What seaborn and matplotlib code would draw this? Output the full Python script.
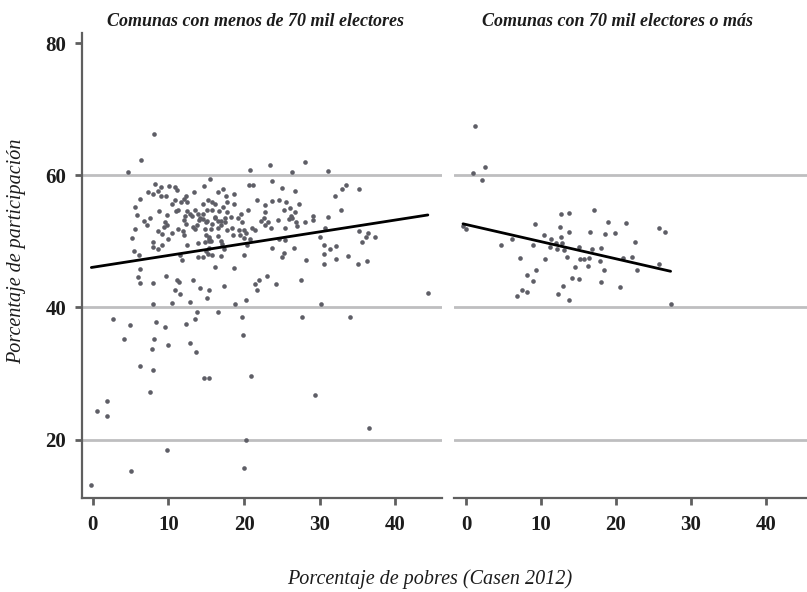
import matplotlib
matplotlib.use("Agg")
import matplotlib.pyplot as plt
import seaborn as sns
import pandas as pd

# Comunas con menos de 70 mil electores: % pobres (Casen 2012) vs % participación
small_pobres = [
    4.6, 6.4, 8.1, 8.2, 7.3, 8.0, 8.6, 9.0, 9.0, 9.7, 10.1, 10.8, 11.1, 12.3, 13.4, 14.7, 15.5, 16.5,
    17.2, 17.6, 18.7, 20.6, 21.2, 20.8, 23.4, 23.7, 25.0, 26.4, 26.7, 28.0, 31.1, 32.0, 33.0, 33.5, 35.2,
    6.2, 10.9, 10.5, 11.7, 12.0, 12.4, 14.5, 15.2, 5.6, 5.9, 8.8, 9.8, 11.0, 11.3, 12.5, 12.9, 13.5,
    13.9, 14.5, 15.1, 7.5,
    6.7, 7.2, 5.6, 5.2, 5.5, 6.1, 6.2, 6.0, 6.2, 7.9, 9.7, 8.6, 9.2, 9.4, 9.5, 9.8, 9.9, 10.5, 11.3,
    12.0, 12.3, 11.9, 12.0, 7.9, 8.0, 8.6, 9.1, 12.5, 11.5, 11.8, 13.3, 13.5, 13.8, 14.0, 14.2, 14.6,
    14.9, 12.2, 13.1, 13.9, 14.8, 15.4, 13.9, 14.5, 14.9, 15.4, 11.1, 11.4, 11.5, 10.9, 13.3, 14.2, 15.3,
    15.7, 16.1, 17.7, 18.7, 17.2, 16.7, 15.8, 17.8, 18.3, 17.5, 16.2, 19.6, 19.2, 20.5, 21.7, 22.7,
    22.8, 23.7, 24.6, 25.6, 25.3, 26.1, 26.7, 26.2, 26.4, 27.2, 29.1, 31.1, 22.6,
    15.1, 15.7, 16.1, 16.5, 16.9, 17.5, 19.7, 22.3, 22.8, 23.2, 23.6, 24.5, 25.4, 25.9, 26.8, 27.0,
    28.1, 29.1, 30.7, 14.8, 15.6, 16.5, 17.0, 17.8, 18.4, 19.3, 20.0, 20.2, 21.0, 21.4, 18.5, 19.4,
    20.8, 15.3, 15.6, 16.6, 16.9, 17.1, 15.4, 14.9, 15.2, 15.8, 16.9, 17.3, 20.0, 20.4, 20.0, 23.7,
    24.6, 25.4, 25.3, 25.0, 26.6, 28.2, 30.1, 30.5, 31.3, 30.5, 30.6, 16.1, 18.7, 23.0, 22.0, 21.5,
    21.7, 24.2, 27.5, 17.3,
    32.8, 35.2, 36.4, 36.1, 37.3, 35.6, 32.1, 33.8, 32.1, 36.2, 35.1, 44.3,
    7.9, 10.5, 12.8, 15.1, 13.8, 16.5, 18.8, 20.2, 19.7, 19.8, 20.9, 14.7, 15.4, 13.5, 12.3, 12.8,
    13.7, 9.9, 9.5, 8.4, 8.1, 7.8, 6.3, 7.9, 4.9, 4.1, 2.6, 27.7, 30.2, 34.0,
    7.5, 29.4, 36.5, 1.9, 0.6, 1.9, 20.2, 9.8, 5.1, 20.0, -0.2,
]
small_particip = [
    60.5, 62.3, 66.2, 58.7, 57.4, 57.2, 57.6, 58.3, 56.9, 56.9, 58.4, 58.2, 57.8, 56.9, 57.5, 58.4, 59.5, 57.4,
    57.9, 56.9, 57.2, 58.6, 58.6, 60.8, 61.6, 59.1, 58.1, 60.5, 57.6, 62.0, 60.7, 56.8, 57.9, 58.5, 57.9,
    56.4, 56.2, 55.7, 56.0, 56.4, 55.9, 55.7, 56.2, 55.2, 54.0, 54.6, 54.0, 54.6, 54.8, 54.6, 54.2, 54.8,
    54.1, 54.2, 54.8, 53.5,
    53.1, 52.5, 51.8, 50.5, 48.6, 48.0, 45.8, 44.6, 43.7, 43.7, 44.7, 51.5, 51.1, 52.2, 53.0, 52.5, 50.4, 51.2, 51.9,
    53.3, 52.7, 51.5, 50.9, 49.9, 49.1, 48.8, 49.4, 49.4, 47.9, 47.2, 52.2, 51.8, 52.5, 53.2, 53.6, 53.4,
    52.9, 53.8, 53.8, 49.8, 49.9, 50.1, 47.7, 47.7, 51.0, 50.7, 44.1, 43.9, 42.1, 42.7, 44.1, 42.9, 42.7,
    56.0, 55.7, 56.0, 55.6, 55.2, 54.6, 54.7, 54.4, 53.7, 53.6, 53.7, 54.2, 53.6, 54.8, 56.3, 55.5,
    54.5, 56.1, 56.3, 55.9, 54.8, 55.1, 54.4, 53.9, 53.6, 55.6, 53.9, 53.7, 53.6,
    53.1, 52.6, 53.5, 53.1, 53.1, 52.9, 52.9, 53.1, 52.5, 53.0, 52.1, 53.3, 52.1, 53.4, 52.9, 52.4,
    52.9, 53.3, 52.1, 51.8, 51.8, 52.0, 52.5, 51.7, 52.0, 51.7, 51.7, 51.2, 52.1, 51.7, 51.0, 51.0,
    50.4, 50.4, 50.1, 50.8, 50.1, 49.6, 49.0, 48.5, 48.1, 48.0, 47.8, 48.9, 50.5, 49.4, 48.0, 49.0,
    50.3, 50.2, 48.2, 47.7, 49.0, 47.2, 50.6, 49.4, 48.9, 48.1, 46.6, 46.2, 46.0, 44.8, 44.1, 43.5,
    42.6, 43.5, 44.2, 43.2,
    54.8, 51.5, 51.3, 50.7, 50.7, 49.9, 49.3, 47.8, 47.3, 47.0, 46.6, 42.2,
    40.6, 40.7, 40.9, 41.5, 39.3, 39.3, 40.6, 41.2, 38.6, 35.8, 29.6, 29.3, 29.3, 38.2, 37.5, 34.6,
    33.3, 34.4, 37.1, 37.8, 35.3, 33.7, 31.1, 30.5, 37.3, 35.2, 38.2, 38.6, 40.6, 38.6,
    27.2, 26.8, 21.8, 25.9, 24.3, 23.6, 20.0, 18.5, 15.3, 15.7, 13.1,
]

# Comunas con 70 mil electores o más
large_pobres = [
    1.2, 2.5, 0.9, 2.2, -0.4, 0.0, 4.7, 6.1, 7.2, 8.2, 7.5, 6.8, 8.2, 9.0, 9.3, 8.9, 9.2, 10.4, 10.6,
    11.2, 11.4, 12.0, 12.1, 12.5, 12.7, 12.8, 12.7, 13.7, 13.7, 13.1, 13.5, 12.9, 12.3, 13.7, 14.2,
    14.6, 15.1, 15.2, 15.1, 15.8, 16.3, 16.4, 16.8, 16.6, 17.1, 18.0, 17.9, 18.4, 18.0, 18.5, 19.0,
    19.9, 21.0, 20.6, 21.3, 22.1, 22.6, 22.8, 25.7, 25.8, 26.6, 27.3,
]
large_particip = [
    67.5, 61.3, 60.4, 59.3, 52.3, 51.9, 49.4, 50.3, 47.5, 44.9, 42.7, 41.8, 42.3, 44.0, 45.6, 49.5, 52.6, 50.9, 47.3,
    49.2, 50.3, 49.8, 48.9, 52.2, 50.6, 49.8, 54.1, 54.3, 51.4, 48.7, 47.7, 43.2, 42.0, 41.1, 44.4,
    46.1, 49.2, 47.3, 44.3, 47.3, 46.3, 47.5, 48.8, 51.4, 54.7, 49.0, 47.1, 45.7, 43.8, 51.1, 53.0,
    51.3, 47.5, 43.1, 52.8, 47.6, 49.9, 45.6, 46.6, 52.0, 51.4, 40.6,
]

panel_titles = ["Comunas con menos de 70 mil electores", "Comunas con 70 mil electores o más"]
x_ticks = [0, 10, 20, 30, 40]
y_ticks = [20, 40, 60, 80]
grid_levels = [20, 40, 60]

small = pd.DataFrame({"pobres": small_pobres, "participacion": small_particip})
large = pd.DataFrame({"pobres": large_pobres, "participacion": large_particip})

sns.set_theme(style="white")
plt.rcParams["font.family"] = ["Liberation Serif", "DejaVu Serif"]

spine_col = "#5f5f5f"
grid_col = "#bebec0"
dot_col = "#5e5e66"
text_col = "#1c1c1c"

fig = plt.figure(figsize=(8.07, 5.92), dpi=100)
ax1 = fig.add_axes([0.101, 0.159, 0.447, 0.785])
ax2 = fig.add_axes([0.5626, 0.159, 0.4374, 0.785])

for ax, df in ((ax1, small), (ax2, large)):
    for g in grid_levels:
        ax.axhline(g, color=grid_col, lw=2.0, zorder=0)
    sns.scatterplot(data=df, x="pobres", y="participacion", ax=ax, color=dot_col,
                    s=11, linewidth=0, zorder=2)
    sns.regplot(data=df, x="pobres", y="participacion", ax=ax, scatter=False, ci=None,
                color="black", line_kws={"lw": 2.0, "zorder": 3})
    ax.set_xlim(-1.5, 46.2)
    ax.set_ylim(11.2, 81.5)
    ax.set_xticks(x_ticks)
    ax.set_xlabel("")
    ax.set_ylabel("")
    for side in ("top", "right"):
        ax.spines[side].set_visible(False)
    ax.spines["bottom"].set_color(spine_col)
    ax.spines["bottom"].set_linewidth(1.6)
    ax.tick_params(axis="x", bottom=True, length=5, width=2, color=spine_col, pad=7,
                   labelsize=15, labelcolor=text_col)
    for lab in ax.get_xticklabels():
        lab.set_fontweight("bold")

ax2.set_xlim(-1.6, 45.5)

ax1.set_yticks(y_ticks)
ax1.spines["left"].set_color(spine_col)
ax1.spines["left"].set_linewidth(1.6)
ax1.tick_params(axis="y", left=True, length=5, width=2, color=spine_col, pad=6,
                labelsize=15, labelcolor=text_col)
for lab in ax1.get_yticklabels():
    lab.set_fontweight("bold")

ax2.spines["left"].set_visible(False)
ax2.set_yticks(y_ticks)
ax2.tick_params(axis="y", left=False, labelleft=False)

fig.text(0.316, 0.963, panel_titles[0], ha="center", va="center", fontsize=13,
         fontweight="bold", fontstyle="italic", color=text_col)
fig.text(0.7646, 0.963, panel_titles[1], ha="center", va="center", fontsize=13,
         fontweight="bold", fontstyle="italic", color=text_col)
fig.text(0.021, 0.576, "Porcentaje de participación", rotation=90, ha="center", va="center",
         fontsize=14.5, fontstyle="italic", color=text_col)
fig.text(0.533, 0.021, "Porcentaje de pobres (Casen 2012)", ha="center", va="center",
         fontsize=14.5, fontstyle="italic", color=text_col)

fig.savefig("out.png", dpi=100)
